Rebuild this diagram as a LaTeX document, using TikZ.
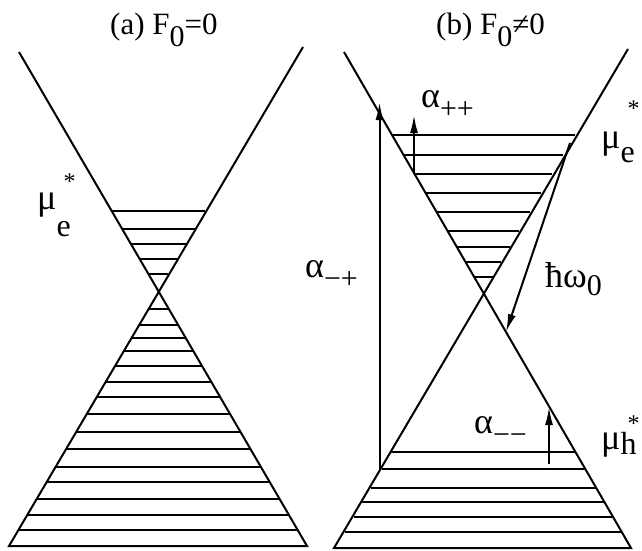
\documentclass[tikz,border=0pt]{standalone}
\usepackage{fontspec}
\setmainfont{Liberation Serif}
\usetikzlibrary{arrows.meta,calc}
% mu with star above and index below: #1 index, #2 star raise, #3 index drop
\newcommand{\mustar}[3]{μ\makebox[0pt][l]{\hspace{7pt}\raisebox{#2}{\fontsize{24}{24}\selectfont *}}\raisebox{-#3}{\fontsize{32}{32}\selectfont #1}}
\newcommand{\alsub}[1]{α\raisebox{-11pt}{\fontsize{30}{30}\selectfont #1}}
\newcommand{\lowsub}[2]{\raisebox{-#2}{\fontsize{30}{30}\selectfont #1}}

\begin{document}
\begin{tikzpicture}[x=1pt,y=-1pt,
  cone/.style={line width=2pt},
  lev/.style={line width=2pt},
  trans/.style={line width=2pt,-{Latex[length=18pt,width=8pt]}},
  lbl/.style={font=\fontsize{36}{36}\selectfont,inner sep=0pt,anchor=base west},
  ttl/.style={font=\fontsize{31}{31}\selectfont,inner sep=0pt,anchor=base west}]
  \useasboundingbox (0,0) rectangle (642,551);
  % panel (a)
  \node[ttl] (ta) at (110,35) {(a) F\lowsub{0}{12pt}=0};
  \coordinate (a1) at (19,52);
  \coordinate (a2) at (307,546);
  \coordinate (a3) at (303,47);
  \coordinate (a4) at (9,546);
  \draw[cone] (a1) -- (a2) -- (a4) -- (a3);
  \foreach \y in {211,229,244,259,274,309,325,338,351,366,382,397,414,432,449,467,482,499,515,530} {
    \pgfmathsetmacro{\hw}{0.583*abs(\y-291)}
    \draw[lev] ({158.5-\hw},\y) -- ({158.5+\hw},\y);
  }
  \node[lbl] (mua) at (37,209.5) {\mustar{e}{20pt}{27pt}};
  % panel (b)
  \node[ttl] (tb) at (436,35) {(b) F\lowsub{0}{12pt}≠0};
  \coordinate (b1) at (344,52);
  \coordinate (b2) at (631,548);
  \coordinate (b3) at (628,49);
  \coordinate (b4) at (334,548);
  \draw[cone] (b1) -- (b2) -- (b4) -- (b3);
  \foreach \y in {135,155,174,193,212,231,247,262,277,452,469,488,502,517,532} {
    \pgfmathsetmacro{\hw}{0.579*abs(\y-293)}
    \draw[lev] ({483.5-\hw},\y) -- ({483.5+\hw},\y);
  }
  \coordinate (pmS) at (379.5,469);
  \coordinate (pmE) at (379.5,102);
  \coordinate (ppS) at (414,174);
  \coordinate (ppE) at (414,115);
  \coordinate (mmS) at (549,464);
  \coordinate (mmE) at (549,407);
  \coordinate (hwS) at (570,143);
  \coordinate (hwE) at (506,332);
  \draw[trans] (pmS) -- (pmE);
  \draw[trans] (ppS) -- (ppE);
  \draw[trans] (mmS) -- (mmE);
  \draw[trans] (hwS) -- (hwE);
  \node[lbl] (lpm) at (305,277) {\alsub{−+}};
  \node[lbl] (lpp) at (421,107) {\alsub{++}};
  \node[lbl] (lmm) at (474,433) {\alsub{−−}};
  \node[lbl] (lhw) at (545,287) {ħω\lowsub{0}{8pt}};
  \node[lbl] (mub) at (601,148.5) {\mustar{e}{32pt}{14pt}};
  \node[lbl] (muh) at (601,449.5) {\mustar{h}{18pt}{5pt}};
\end{tikzpicture}
\end{document}
